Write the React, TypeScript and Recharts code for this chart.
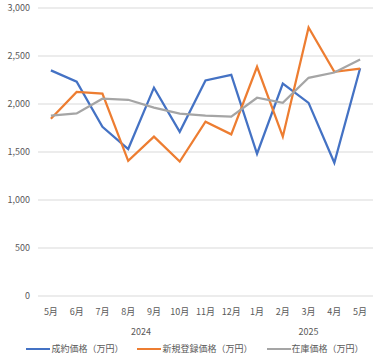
import { LineChart, Line, XAxis, YAxis, CartesianGrid, Legend } from "recharts";

const months = ["5月", "6月", "7月", "8月", "9月", "10月", "11月", "12月", "1月", "2月", "3月", "4月", "5月"];
const years = ["2024", "2024", "2024", "2024", "2024", "2024", "2024", "2024", "2025", "2025", "2025", "2025", "2025"];

const contract = [2350, 2233, 1762, 1531, 2170, 1710, 2245, 2303, 1482, 2213, 2012, 1388, 2372];
const newListing = [1846, 2125, 2108, 1408, 1660, 1400, 1816, 1684, 2388, 1660, 2798, 2336, 2368];
const stock = [1878, 1902, 2055, 2044, 1963, 1899, 1878, 1868, 2065, 2013, 2273, 2328, 2463];

const yTicks = [0, 500, 1000, 1500, 2000, 2500, 3000];

// each month sits in the middle of its slot, like a category axis
const data = months.map((m, i) => ({
  month: m,
  pos: i + 0.5,
  contract: contract[i],
  newListing: newListing[i],
  stock: stock[i],
}));

// centre of each year group, in slot units
const yearGroups: { label: string; center: number }[] = [];
years.forEach((y) => {
  if (!yearGroups.find((g) => g.label === y)) {
    const first = years.indexOf(y);
    const last = years.lastIndexOf(y);
    yearGroups.push({ label: y, center: (first + last) / 2 + 0.5 });
  }
});

const series = [
  { key: "contract", name: "成約価格（万円）", color: "#4472C4" },
  { key: "newListing", name: "新規登録価格（万円）", color: "#ED7D31" },
  { key: "stock", name: "在庫価格（万円）", color: "#A5A5A5" },
];

const font = "'Noto Sans CJK JP', 'Noto Sans', sans-serif";
const tick = { fill: "#595959", fontSize: 9, fontFamily: font };

function LegendContent() {
  return (
    <div style={{ display: "flex", justifyContent: "center", fontFamily: font, fontSize: 9, color: "#595959" }}>
      {series.map((s, i) => (
        <div key={s.key} style={{ display: "flex", alignItems: "center", marginLeft: i ? 14 : 0 }}>
          <div style={{ width: 24, height: 2, background: s.color, marginRight: 1 }} />
          <span>{s.name}</span>
        </div>
      ))}
    </div>
  );
}

export default function App() {
  return (
    <div style={{ position: "absolute", left: 0, top: 0, width: 390, height: 363, background: "#fff" }}>
      <LineChart width={390} height={363} data={data} margin={{ top: 8, right: 17, left: 0, bottom: 0 }}>
        <CartesianGrid vertical={false} stroke="#D9D9D9" />
        <XAxis
          dataKey="pos"
          type="number"
          domain={[0, months.length]}
          ticks={data.map((d) => d.pos)}
          tickFormatter={(v) => months[Math.round(v - 0.5)] ?? ""}
          tick={tick}
          axisLine={false}
          tickLine={false}
          tickMargin={7}
          height={26}
          interval={0}
        />
        <XAxis
          xAxisId="year"
          dataKey="pos"
          type="number"
          domain={[0, months.length]}
          ticks={yearGroups.map((g) => g.center)}
          tickFormatter={(v) => yearGroups.find((g) => g.center === v)?.label ?? ""}
          tick={tick}
          axisLine={false}
          tickLine={false}
          tickMargin={1}
          height={20}
        />
        <YAxis
          domain={[0, 3000]}
          ticks={yTicks}
          tickFormatter={(v) => v.toLocaleString("en-US")}
          tick={tick}
          axisLine={false}
          tickLine={false}
          width={38}
        />
        <Legend
          verticalAlign="bottom"
          height={21}
          wrapperStyle={{ left: 0, width: 390 }}
          content={<LegendContent />}
        />
        {series.map((s) => (
          <Line
            key={s.key}
            type="linear"
            dataKey={s.key}
            name={s.name}
            stroke={s.color}
            strokeWidth={2.25}
            dot={false}
            activeDot={false}
            isAnimationActive={false}
          />
        ))}
      </LineChart>
    </div>
  );
}
